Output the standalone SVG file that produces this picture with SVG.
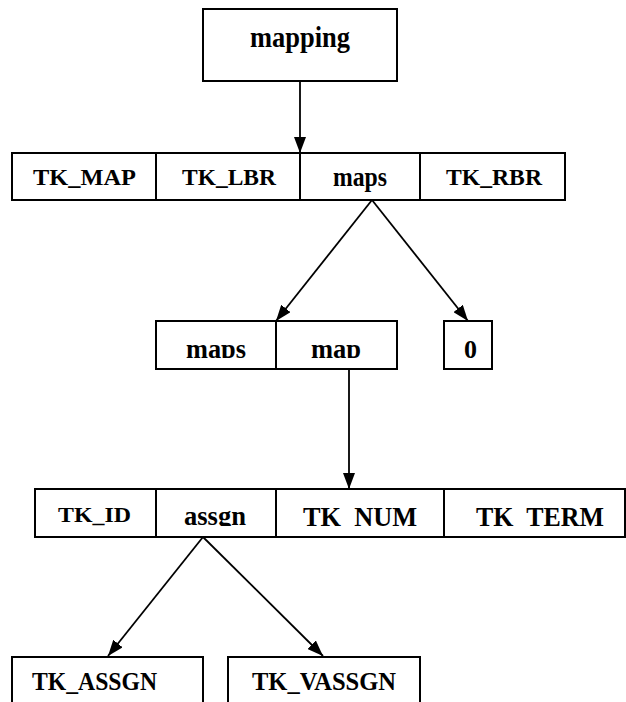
<svg xmlns="http://www.w3.org/2000/svg" width="626" height="702" viewBox="0 0 626 702">
  <style>
    .box { fill: #fff; stroke: #000; stroke-width: 2; }
    .sep { stroke: #000; stroke-width: 2; }
    .lbl { font-family: "Liberation Serif", "Times New Roman", serif; font-weight: bold; fill: #000; }
    .edge { stroke: #000; stroke-width: 1.8; fill: none; marker-end: url(#head); }
  </style>
  <defs>
    <marker id="head" markerUnits="userSpaceOnUse" markerWidth="16" markerHeight="12" refX="16" refY="6" orient="auto">
      <path d="M0,0 L16,6 L0,12 Z" fill="#000"/>
    </marker>
    <!-- field rows clip their labels at the lower text line -->
    <clipPath id="clipRow2"><rect x="0" y="300" width="626" height="58"/></clipPath>
    <clipPath id="clipRow3"><rect x="0" y="480" width="626" height="46"/></clipPath>
  </defs>

  <rect width="626" height="702" fill="#fff"/>

  <!-- root -->
  <g id="mapping">
    <rect class="box" x="203" y="9" width="194" height="72"/>
    <text class="lbl" x="250" y="46.5" font-size="30" textLength="100" lengthAdjust="spacingAndGlyphs">mapping</text>
  </g>

  <!-- production: TK_MAP TK_LBR maps TK_RBR -->
  <g id="row1">
    <rect class="box" x="12" y="153" width="553" height="47"/>
    <g id="tk_map">
      <text class="lbl" x="33" y="185" font-size="23" textLength="103" lengthAdjust="spacingAndGlyphs">TK_MAP</text>
    </g>
    <g id="tk_lbr">
      <line class="sep" x1="156" y1="153" x2="156" y2="200"/>
      <text class="lbl" x="182" y="185" font-size="23" textLength="94" lengthAdjust="spacingAndGlyphs">TK_LBR</text>
    </g>
    <g id="maps1">
      <line class="sep" x1="300" y1="153" x2="300" y2="200"/>
      <text class="lbl" x="333" y="185.5" font-size="28" textLength="54" lengthAdjust="spacingAndGlyphs">maps</text>
    </g>
    <g id="tk_rbr">
      <line class="sep" x1="420" y1="153" x2="420" y2="200"/>
      <text class="lbl" x="446" y="185" font-size="23" textLength="96" lengthAdjust="spacingAndGlyphs">TK_RBR</text>
    </g>
  </g>

  <!-- production: maps map -->
  <g id="row2">
    <rect class="box" x="156" y="321" width="241" height="48"/>
    <line class="sep" x1="276" y1="321" x2="276" y2="369"/>
    <g id="maps2" clip-path="url(#clipRow2)">
      <text class="lbl" x="186" y="357.5" font-size="28" textLength="60" lengthAdjust="spacingAndGlyphs">maps</text>
    </g>
    <g id="map" clip-path="url(#clipRow2)">
      <text class="lbl" x="311" y="357.5" font-size="28" textLength="50" lengthAdjust="spacingAndGlyphs">map</text>
    </g>
  </g>

  <g id="zero">
    <rect class="box" x="444" y="321" width="48" height="48"/>
    <g clip-path="url(#clipRow2)">
      <text class="lbl" x="464" y="358" font-size="25" textLength="13" lengthAdjust="spacingAndGlyphs">0</text>
    </g>
  </g>

  <!-- production: TK_ID assgn TK_NUM TK_TERM -->
  <g id="row3">
    <rect class="box" x="35" y="489" width="590" height="48"/>
    <line class="sep" x1="156" y1="489" x2="156" y2="537"/>
    <line class="sep" x1="276" y1="489" x2="276" y2="537"/>
    <line class="sep" x1="444" y1="489" x2="444" y2="537"/>
    <g id="tk_id">
      <text class="lbl" x="58" y="521.5" font-size="22" textLength="73" lengthAdjust="spacingAndGlyphs">TK_ID</text>
    </g>
    <g id="assgn" clip-path="url(#clipRow3)">
      <text class="lbl" x="184" y="525" font-size="27" textLength="62" lengthAdjust="spacingAndGlyphs">assgn</text>
    </g>
    <g id="tk_num" clip-path="url(#clipRow3)">
      <text class="lbl" x="303" y="526" font-size="28" textLength="114" lengthAdjust="spacingAndGlyphs">TK_NUM</text>
    </g>
    <g id="tk_term" clip-path="url(#clipRow3)">
      <text class="lbl" x="476" y="526" font-size="28" textLength="128" lengthAdjust="spacingAndGlyphs">TK_TERM</text>
    </g>
  </g>

  <!-- leaves, running past the lower edge -->
  <g id="tk_assgn">
    <rect class="box" x="12" y="657" width="191" height="70"/>
    <text class="lbl" x="32" y="689.5" font-size="26" textLength="125" lengthAdjust="spacingAndGlyphs">TK_ASSGN</text>
  </g>
  <g id="tk_vassgn">
    <rect class="box" x="228" y="657" width="192" height="70"/>
    <text class="lbl" x="252" y="689.5" font-size="26" textLength="144" lengthAdjust="spacingAndGlyphs">TK_VASSGN</text>
  </g>

  <!-- connectors -->
  <g id="edges">
    <line class="edge" x1="300" y1="81" x2="300" y2="153"/>
    <line class="edge" x1="372" y1="200" x2="276" y2="321"/>
    <line class="edge" x1="372" y1="200" x2="468" y2="321"/>
    <line class="edge" x1="349" y1="369" x2="349" y2="489"/>
    <line class="edge" x1="203" y1="537" x2="108" y2="656"/>
    <line class="edge" x1="203" y1="537" x2="323" y2="656"/>
  </g>
</svg>
